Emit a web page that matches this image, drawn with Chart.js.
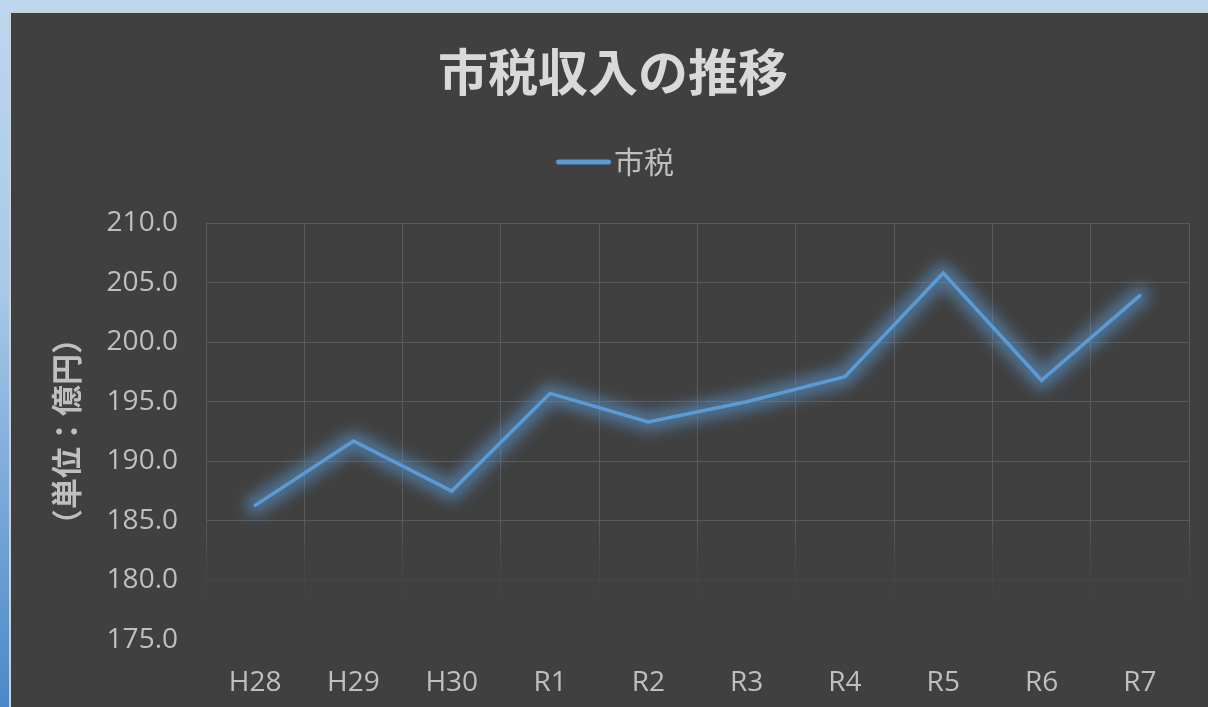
<!DOCTYPE html>
<html><head><meta charset="utf-8">
<script src="https://cdn.jsdelivr.net/npm/chart.js@4/dist/chart.umd.min.js"></script>
<style>
html,body{margin:0;padding:0;width:1208px;height:707px;overflow:hidden;
 background:linear-gradient(to bottom,#bdd7ee 0%,#a9c9e8 40%,#4c88c7 100%);}
#box{position:absolute;left:9px;top:11px;width:1197px;height:694px;border-left:2px solid #cfcfcf;border-top:2px solid #cfcfcf;background:#404040;}
canvas{display:block;}
</style></head><body>
<div id="box"><canvas id="c" width="1197" height="694"></canvas></div>
<script>
const categories = ['H28','H29','H30','R1','R2','R3','R4','R5','R6','R7'];
const cityTax = [186.3, 191.7, 187.5, 195.7, 193.3, 195.0, 197.1, 205.8, 196.8, 203.9];
const seriesName = '市税';
const chartTitle = '市税収入の推移';
const yAxisTitle = '（単位：億円）';
const yMin = 175, yMax = 210, yStep = 5;

const FONT = '"Open Sans","Noto Sans CJK JP",sans-serif';
const CJK = '"Noto Sans CJK JP","Open Sans",sans-serif';
const LINE_COLOR = '#5b9bd5';

// legend swatch (short thick round-capped line, offset right inside a wider transparent image)
const swatch = document.createElement('canvas');
swatch.width = 80; swatch.height = 10;
(function(){
  const c = swatch.getContext('2d');
  c.strokeStyle = LINE_COLOR; c.lineWidth = 5; c.lineCap = 'round';
  c.beginPath(); c.moveTo(23, 5); c.lineTo(73, 5); c.stroke();
})();

function gridColor(ctx){
  const chart = ctx.chart;
  const a = chart.chartArea;
  if(!a) return '#5a5a5a';
  const g = chart.ctx.createLinearGradient(0, a.top, 0, a.bottom);
  const h = a.bottom - a.top;
  g.addColorStop(0, 'rgba(90,90,90,1)');
  g.addColorStop(300/h, 'rgba(90,90,90,1)');
  g.addColorStop(358/h, 'rgba(78,78,78,0.35)');
  g.addColorStop(1, 'rgba(64,64,64,0)');
  return g;
}

const glow = {
  id:'glow',
  beforeDatasetsDraw(chart){
    const meta = chart.getDatasetMeta(0);
    const pts = meta.data;
    if(!pts || !pts.length) return;
    const c = chart.ctx;
    c.save();
    c.filter = 'blur(7px)';
    c.strokeStyle = 'rgba(91,155,213,0.55)';
    c.lineWidth = 20; c.lineJoin = 'round'; c.lineCap = 'round';
    c.beginPath();
    pts.forEach((p,i)=>{ if(i===0) c.moveTo(p.x,p.y); else c.lineTo(p.x,p.y); });
    c.stroke();
    c.restore();
  }
};

const spacer = {
  id:'spacer',
  beforeInit(chart){
    const box = {
      position:'top', weight:100, fullSize:true, options:{},
      left:0, top:0, right:0, bottom:0, width:0, height:0,
      isHorizontal(){ return true; },
      update(maxW){ this.width = maxW; this.height = 36; return {width:maxW,height:36}; },
      draw(){}
    };
    Chart.layouts.addBox(chart, box);
  }
};

new Chart(document.getElementById('c'), {
  type:'line',
  data:{labels:categories, datasets:[{
    label:seriesName, data:cityTax, borderColor:LINE_COLOR, backgroundColor:LINE_COLOR,
    borderWidth:3.5, borderCapStyle:'round', borderJoinStyle:'miter', pointRadius:0, tension:0, fill:false
  }]},
  options:{
    responsive:false, animation:false,
    layout:{padding:{left:26,right:19,top:0,bottom:0}},
    plugins:{
      title:{display:true,text:chartTitle,color:'#d9d9d9',
        font:{family:CJK,size:50,weight:'bold',lineHeight:1.2},padding:{top:29,bottom:0}},
      legend:{display:true,position:'top',
        labels:{usePointStyle:true,pointStyle:swatch,pointStyleWidth:47,boxHeight:30,
          color:'#bfbfbf',font:{family:CJK,size:30},padding:45}},
      tooltip:{enabled:false}
    },
    scales:{
      x:{offset:true,
        grid:{offset:true,color:gridColor,lineWidth:1,drawTicks:false},
        border:{display:false},
        ticks:{color:'#bfbfbf',font:{family:FONT,size:28},padding:26,maxRotation:0},
        afterFit(s){ s.height = 67; }
      },
      y:{min:yMin,max:yMax,
        grid:{color:gridColor,lineWidth:1,drawTicks:false},
        border:{display:false},
        ticks:{stepSize:yStep,color:'#bfbfbf',font:{family:FONT,size:28},padding:28,
          callback:v=>Number(v).toFixed(1)},
        title:{display:true,text:yAxisTitle,color:'#bfbfbf',
          font:{family:CJK,size:31,weight:'bold',lineHeight:1.2},padding:{top:11,bottom:0}},
        afterFit(s){ s.width = 169; }
      }
    }
  },
  plugins:[glow, spacer]
});
</script>
</body></html>
